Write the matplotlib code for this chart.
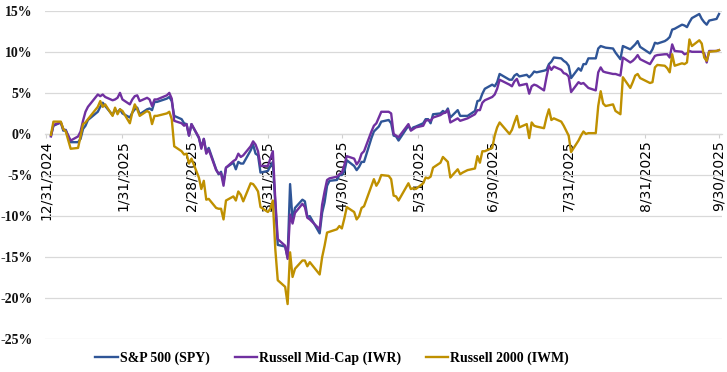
import matplotlib
matplotlib.use("Agg")
import matplotlib.pyplot as plt
import pandas as pd

# ---------------- data ----------------
dates = [
    # Jan
    "01-02", "01-03", "01-06", "01-07", "01-08", "01-10", "01-13", "01-14", "01-15", "01-16",
    "01-17", "01-21", "01-22", "01-23", "01-24", "01-27", "01-28", "01-29", "01-30", "01-31",
    # Feb
    "02-03", "02-04", "02-05", "02-06", "02-07", "02-10", "02-11", "02-12", "02-13", "02-14",
    "02-18", "02-19", "02-20", "02-21", "02-24", "02-25", "02-26", "02-27", "02-28",
    # Mar
    "03-03", "03-04", "03-05", "03-06", "03-07", "03-10", "03-11", "03-12", "03-13", "03-14",
    "03-17", "03-18", "03-19", "03-20", "03-21", "03-24", "03-25", "03-26", "03-27", "03-28", "03-31",
    # Apr
    "04-01", "04-02", "04-03", "04-04", "04-07", "04-08", "04-09", "04-10", "04-11", "04-14",
    "04-15", "04-16", "04-17", "04-21", "04-22", "04-23", "04-24", "04-25", "04-28", "04-29", "04-30",
    # May
    "05-01", "05-02", "05-05", "05-06", "05-07", "05-08", "05-09", "05-12", "05-13", "05-14",
    "05-15", "05-16", "05-19", "05-20", "05-21", "05-22", "05-23", "05-27", "05-28", "05-29", "05-30",
    # Jun
    "06-02", "06-03", "06-04", "06-05", "06-06", "06-09", "06-10", "06-11", "06-12", "06-13",
    "06-16", "06-17", "06-18", "06-20", "06-23", "06-24", "06-25", "06-26", "06-27", "06-30",
    # Jul
    "07-01", "07-02", "07-03", "07-07", "07-08", "07-09", "07-10", "07-11", "07-14", "07-15",
    "07-16", "07-17", "07-18", "07-21", "07-22", "07-23", "07-24", "07-25", "07-28", "07-29",
    "07-30", "07-31",
    # Aug
    "08-01", "08-04", "08-05", "08-06", "08-07", "08-08", "08-11", "08-12", "08-13", "08-14",
    "08-15", "08-18", "08-19", "08-20", "08-21", "08-22", "08-25", "08-26", "08-27", "08-28", "08-29",
    # Sep
    "09-02", "09-03", "09-04", "09-05", "09-08", "09-09", "09-10", "09-11", "09-12", "09-15",
    "09-16", "09-17", "09-18", "09-19", "09-22", "09-23", "09-24", "09-25", "09-26", "09-29", "09-30",
]

spy = [
    # Jan
    -0.2, 1.0, 1.4, 0.4, 0.5, -1.0, -1.0, -0.6, 0.6, 1.0,
    1.7, 2.7, 3.3, 3.8, 3.4, 2.3, 3.0, 2.6, 3.0, 2.5,
    # Feb
    2.0, 2.6, 3.0, 3.2, 2.4, 3.0, 3.1, 2.9, 3.9, 3.9,
    4.3, 4.5, 4.0, 2.2, 1.8, 1.3, 1.2, -0.2, 1.2,
    # Mar
    -0.5, -1.6, -0.6, -2.2, -1.7, -4.3, -4.9, -4.6, -5.9, -4.1,
    -3.5, -4.3, -3.4, -3.6, -3.6, -2.0, -1.3, -2.4, -2.6, -4.7, -4.5,
    # Apr
    -3.9, -3.4, -8.5, -13.5, -13.7, -15.0, -6.1, -10.5, -9.0, -8.0,
    -8.2, -10.1, -10.0, -12.1, -9.6, -8.3, -6.3, -5.7, -5.6, -5.0, -5.0,
    # May
    -4.6, -3.2, -3.9, -4.4, -4.0, -3.4, -3.4, -0.5, 0.3, 0.6,
    0.9, 1.5, 1.7, 1.3, -0.2, -0.3, -0.8, 1.0, 0.5, 0.8, 0.9,
    # Jun
    1.3, 1.8, 1.8, 1.3, 2.4, 2.5, 2.8, 2.6, 3.1, 2.0,
    2.9, 2.2, 2.2, 2.2, 2.8, 4.0, 4.1, 4.9, 5.5, 6.0,
    # Jul
    5.8, 6.3, 7.3, 6.6, 6.6, 7.1, 7.3, 7.0, 7.2, 6.9,
    7.2, 7.6, 7.5, 7.7, 7.8, 8.5, 8.8, 9.3, 9.2, 8.9,
    8.7, 8.3,
    # Aug
    6.8, 8.0, 7.7, 8.5, 8.5, 9.2, 9.2, 10.4, 10.7, 10.6,
    10.5, 10.4, 9.9, 9.5, 9.1, 10.7, 10.3, 10.6, 10.9, 11.3, 10.6,
    # Sep
    9.8, 10.3, 11.1, 11.0, 11.3, 11.5, 11.8, 12.7, 12.8, 13.3,
    13.2, 13.0, 13.6, 14.1, 14.6, 14.0, 13.6, 13.3, 13.8, 14.0, 14.6,
]

iwr = [
    # Jan
    -0.3, 1.1, 1.4, 0.6, 0.4, -0.8, -0.3, 0.3, 1.6, 2.7,
    3.3, 4.8, 4.6, 4.8, 4.5, 4.1, 4.2, 4.4, 5.0, 4.2,
    # Feb
    3.6, 4.2, 4.6, 4.7, 4.0, 4.4, 4.2, 3.4, 4.2, 4.2,
    4.7, 5.0, 4.3, 1.6, 1.3, 1.0, 1.2, -0.2, 1.2,
    # Mar
    -0.4, -1.8, -0.6, -2.4, -1.9, -4.4, -4.8, -4.8, -6.3, -4.1,
    -3.3, -3.1, -2.4, -2.8, -2.6, -1.5, -0.9, -1.3, -2.1, -3.9, -3.9,
    # Apr
    -3.0, -2.1, -8.0, -12.8, -13.6, -15.2, -9.8, -10.9, -9.6, -8.5,
    -8.9, -10.2, -10.4, -11.6, -8.6, -7.0, -5.6, -5.4, -5.2, -4.9, -4.7,
    # May
    -3.8, -2.7, -3.0, -3.7, -3.3, -2.4, -2.1, 0.3, 1.0, 1.3,
    2.0, 2.7, 2.7, 2.5, 0.0, -0.2, -0.4, 1.2, 0.4, 0.6, 0.8,
    # Jun
    1.0, 1.6, 1.7, 1.6, 2.0, 2.3, 2.5, 2.6, 2.9, 1.4,
    1.9, 1.6, 1.7, 1.9, 2.4, 2.9, 2.9, 3.8, 4.1, 4.5,
    # Jul
    4.8, 5.5, 6.6, 6.0, 5.8, 6.4, 6.7, 5.9, 6.1, 4.9,
    5.8, 6.0, 5.9, 5.3, 6.9, 8.3, 7.8, 8.2, 7.8, 7.4,
    7.3, 7.0,
    # Aug
    5.1, 6.3, 6.1, 6.2, 5.9, 5.6, 5.3, 7.5, 8.1, 7.6,
    7.5, 7.3, 7.3, 7.2, 7.1, 9.3, 8.7, 8.9, 9.2, 9.6, 9.1,
    # Sep
    8.5, 9.0, 9.5, 9.6, 9.7, 9.7, 9.3, 10.9, 10.1, 10.0,
    9.7, 9.8, 10.1, 10.0, 10.0, 10.0, 9.8, 8.7, 10.1, 10.1, 10.2,
]

iwm = [
    # Jan
    -0.1, 1.5, 1.5, 0.6, 0.3, -1.8, -1.7, -0.3, 1.2, 1.4,
    1.8, 3.3, 4.0, 3.3, 3.6, 2.2, 3.2, 2.4, 3.0, 2.8,
    # Feb
    1.3, 2.6, 3.6, 3.0, 2.2, 2.8, 2.6, 1.2, 2.2, 2.2,
    2.5, 2.7, 1.8, -1.5, -2.1, -2.5, -2.4, -3.6, -3.0,
    # Mar
    -5.3, -6.7, -5.7, -8.0, -7.9, -9.0, -9.1, -9.1, -10.4, -8.1,
    -7.6, -8.1, -7.0, -7.4, -8.2, -6.0, -6.1, -6.5, -7.0, -8.9, -9.5,
    # Apr
    -9.1, -8.1, -14.0, -17.8, -18.6, -20.7, -14.4, -17.4, -16.4, -15.4,
    -15.4, -16.1, -15.6, -17.1, -15.0, -13.6, -12.0, -11.9, -11.6, -11.2, -11.5,
    # May
    -10.3, -8.9, -9.5, -10.4, -10.0, -9.0, -8.8, -6.3, -5.5, -6.3,
    -5.8, -5.0, -5.1, -5.5, -7.5, -7.6, -8.1, -6.0, -6.7, -6.6, -6.7,
    # Jun
    -6.0, -5.3, -5.4, -5.2, -4.1, -3.5, -2.8, -3.1, -3.4, -5.3,
    -4.3, -4.9, -4.7, -4.4, -4.2, -2.7, -3.5, -2.1, -2.1, -1.7,
    # Jul
    -0.2, 0.8, 1.4, 0.0, 0.5, 1.4, 2.2, 0.8, 1.2, -0.5,
    1.4, 1.0, 0.9, 0.7, 2.0, 3.0, 1.7, 1.9, 1.5, 1.0,
    0.4, -0.2,
    # Aug
    -2.2, -0.8, -0.2, 0.3, 0.0, 0.1, 0.1, 3.4, 5.2, 3.7,
    3.4, 3.6, 2.8, 2.6, 2.4, 6.9, 5.6, 6.3, 7.1, 7.3, 6.8,
    # Sep
    6.2, 6.3, 8.1, 8.4, 8.3, 8.0, 7.5, 9.7, 8.3, 8.6,
    8.5, 8.7, 11.5, 10.7, 11.4, 11.0, 9.3, 8.9, 10.0, 10.1, 10.2,
]

series_names = ["S&P 500 (SPY)", "Russell Mid-Cap (IWR)", "Russell 2000 (IWM)"]
series_colors = ["#2F5597", "#7030A0", "#BF9000"]

tick_dates = ["2024-12-31", "2025-01-31", "2025-02-28", "2025-03-31", "2025-04-30",
              "2025-05-31", "2025-06-30", "2025-07-31", "2025-08-31", "2025-09-30"]
tick_labels = ["12/31/2024", "1/31/2025", "2/28/2025", "3/31/2025", "4/30/2025",
               "5/31/2025", "6/30/2025", "7/31/2025", "8/31/2025", "9/30/2025"]
y_ticks = [-25, -20, -15, -10, -5, 0, 5, 10, 15]

assert len(dates) == len(spy) == len(iwr) == len(iwm)

# ---------------- plot ----------------
x = pd.to_datetime(["2025-" + d for d in dates])
xt = pd.to_datetime(tick_dates)

W, H = 727, 372
fig = plt.figure(figsize=(W / 100, H / 100), dpi=100)
left_px, right_px, top_px, bot_px = 45, 722, 10.7, 339.4
ax = fig.add_axes([left_px / W, 1 - bot_px / H, (right_px - left_px) / W, (bot_px - top_px) / H])

for vals, name, col, z in zip([spy, iwr, iwm], series_names, series_colors, [3, 4, 5]):
    ax.plot(x, vals, color=col, lw=1.7, label=name, zorder=z, solid_joinstyle="round")

ax.set_xlim(pd.Timestamp("2024-12-31") - pd.Timedelta(hours=10),
            pd.Timestamp("2025-09-30") + pd.Timedelta(hours=29))
ax.set_ylim(-25, 15)

ax.tick_params(axis="y", length=0, pad=9)
ax.tick_params(axis="x", length=3, width=0.8, color="#D0D0D0", pad=1.5,
               direction="out", labelrotation=90)

ax.set_yticks(y_ticks)
ax.set_yticklabels([f"{v}%" for v in y_ticks], fontfamily="Liberation Serif",
                   fontweight="bold", fontsize=10, color="#111111")

ax.set_xticks(xt)
ax.set_xticklabels(tick_labels, rotation=90, fontfamily="Liberation Sans",
                   fontsize=10, color="#333333", va="top", ha="center")

ax.grid(axis="y", color="#D9D9D9", lw=0.9)
ax.set_axisbelow(True)
for s in ["top", "right", "left"]:
    ax.spines[s].set_visible(False)
ax.spines["bottom"].set_position(("data", 0))
ax.spines["bottom"].set_color("#D9D9D9")
ax.spines["bottom"].set_linewidth(0.9)

fig.legend(loc="center", bbox_to_anchor=(0.457, 0.037), ncol=3, frameon=False,
           handlelength=1.6, handletextpad=0.15, columnspacing=1.8,
           prop={"family": "Liberation Serif", "weight": "bold", "size": 10})

fig.savefig("out.png", dpi=100)
